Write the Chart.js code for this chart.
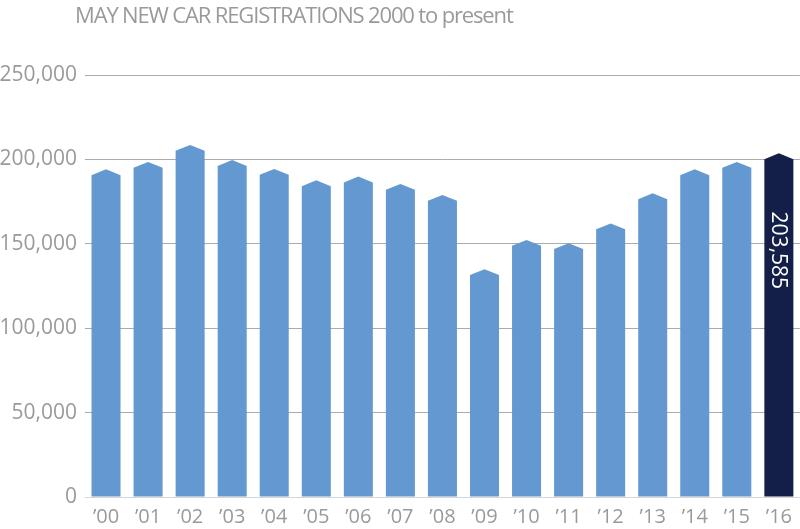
<!DOCTYPE html>
<html>
<head>
<meta charset="utf-8">
<script src="https://cdn.jsdelivr.net/npm/chart.js@4.4.0/dist/chart.umd.min.js"></script>
<style>
  html, body { margin: 0; padding: 0; background: #fff; }
  #wrap { position: relative; width: 800px; height: 529px; }
  #title {
    position: absolute; left: 75px; top: -1px;
    font-family: "Open Sans", sans-serif; font-size: 22px; color: #9a9a9a;
    white-space: nowrap; letter-spacing: -1.15px;
  }
</style>
</head>
<body>
<div id="wrap">
  <div id="title">MAY NEW CAR REGISTRATIONS 2000 to present</div>
  <canvas id="regs" width="800" height="529"></canvas>
</div>
<script>
"use strict"

	// May new car registrations, 2000 - 2016
	var years = ['\u201900', '\u201901', '\u201902', '\u201903', '\u201904', '\u201905', '\u201906', '\u201907', '\u201908',
	             '\u201909', '\u201910', '\u201911', '\u201912', '\u201913', '\u201914', '\u201915', '\u201916'];
	var registrations = [194100, 198500, 208500, 199600, 194300, 187600, 189800, 185400, 178900,
	                     134900, 152300, 150300, 162100, 179900, 194100, 198500, 203585];
	var yTicks = [0, 50000, 100000, 150000, 200000, 250000];
	var highlightLabel = '203,585';

	var barColors = registrations.map(function (v, i) {
		return i === registrations.length - 1 ? '#131f48' : '#6399d0';
	});

	// bars with a pointed roof, drawn from the bar elements the library laid out
	var roofBars = {
		id: 'roofBars',
		beforeDatasetDraw: function (chart, args) {
			var ctx = chart.ctx;
			ctx.save();
			args.meta.data.forEach(function (bar, i) {
				var w = bar.width, x = bar.x, top = bar.y, base = bar.base;
				var rise = w * 0.2;
				ctx.beginPath();
				ctx.moveTo(x - w / 2, base);
				ctx.lineTo(x - w / 2, top + rise);
				ctx.lineTo(x, top);
				ctx.lineTo(x + w / 2, top + rise);
				ctx.lineTo(x + w / 2, base);
				ctx.closePath();
				ctx.fillStyle = barColors[i];
				ctx.fill();
			});
			ctx.restore();
			return false;
		},
		afterDatasetsDraw: function (chart) {
			var ctx = chart.ctx;
			var meta = chart.getDatasetMeta(0);
			var last = meta.data[meta.data.length - 1];
			ctx.save();
			ctx.translate(last.x, last.y + 97);
			ctx.rotate(Math.PI / 2);
			ctx.font = '21px "Open Sans", sans-serif';
			ctx.fillStyle = '#ffffff';
			ctx.textAlign = 'center';
			ctx.textBaseline = 'middle';
			ctx.fillText(highlightLabel, 0, 1);
			ctx.restore();
		}
	};

	var regs_config = {
		type: 'bar',
		data: {
			labels: years,
			datasets: [{
				data: registrations,
				backgroundColor: barColors,
				categoryPercentage: 1,
				barPercentage: 0.69
			}]
		},
		options: {
			responsive: false,
			animation: false,
			layout: {
				padding: { top: 75, right: 0, left: 0, bottom: 0 }
			},
			plugins: {
				legend: { display: false },
				tooltip: { enabled: false }
			},
			scales: {
				x: {
					afterFit: function (scale) { scale.height = 32; },
					grid: { display: false, drawTicks: false },
					border: { display: false },
					ticks: {
						color: '#9a9a9a',
						padding: 8,
						font: { family: 'Open Sans', size: 20 }
					}
				},
				y: {
					min: 0,
					max: 250000,
					afterBuildTicks: function (scale) {
						scale.ticks = yTicks.map(function (v) { return { value: v }; });
					},
					afterFit: function (scale) { scale.width = 85; },
					grid: {
						drawTicks: false,
						color: function (c) { return c.tick && c.tick.value === 0 ? '#d6d6d6' : '#ababab'; },
						lineWidth: 1
					},
					border: { display: false },
					ticks: {
						color: '#9a9a9a',
						padding: 8,
						font: { family: 'Open Sans', size: 21 },
						callback: function (v) { return v.toLocaleString('en-US'); }
					}
				}
			}
		},
		plugins: [roofBars]
	};

	var regs_ctx = document.getElementById('regs').getContext('2d');
	var regs_chart = new Chart(regs_ctx, regs_config);
</script>
</body>
</html>
